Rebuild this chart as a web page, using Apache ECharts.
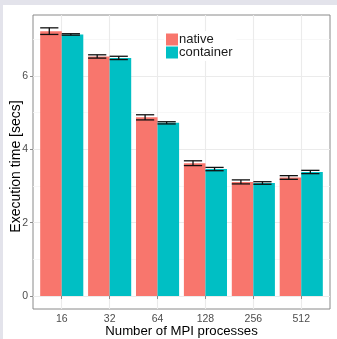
<!DOCTYPE html>
<html><head><meta charset="utf-8">
<script src="https://cdn.jsdelivr.net/npm/echarts@6/dist/echarts.min.js"></script>
<style>
html,body{margin:0;padding:0;background:#e3e3eb;width:337px;height:339px;overflow:hidden}
#c{position:absolute;left:3px;top:5px;width:334px;height:334px;background:#fff}
</style></head><body><div id="c"></div>
<script>
const categories = ['16','32','64','128','256','512'];
const nativeVals = [7.22, 6.53, 4.87, 3.62, 3.11, 3.23];
const nativeErr  = [0.09, 0.045, 0.07, 0.065, 0.055, 0.05];
const containerVals = [7.13, 6.49, 4.72, 3.46, 3.08, 3.38];
const containerErr  = [0.02, 0.045, 0.03, 0.045, 0.035, 0.045];
const yTicks = [0, 2, 4, 6];
const yMinor = [1, 3, 5, 7];
const xPos = categories.map((c, i) => i + 1);

const FONT = "'Liberation Sans', Arial, sans-serif";
const chart = echarts.init(document.getElementById('c'), null, {renderer: 'canvas'});

function makeRender(side, color) {
  return function (params, api) {
    const x = api.value(0), y = api.value(1), e = api.value(2);
    const x0 = side < 0 ? x - 0.45 : x;
    const x1 = x0 + 0.45;
    const pTop = api.coord([x0, y]);
    const pBot = api.coord([x1, 0]);
    const cx = (x0 + x1) / 2 - 0.035;
    const a = api.coord([cx - 0.19, y + e]);
    const b = api.coord([cx + 0.19, y - e]);
    const m = api.coord([cx, y]);
    const ls = {stroke: '#111', lineWidth: 1.3};
    return {
      type: 'group',
      children: [
        {type: 'rect', shape: {x: pTop[0], y: pTop[1], width: pBot[0] - pTop[0], height: pBot[1] - pTop[1]}, style: {fill: color}},
        {type: 'line', shape: {x1: a[0], y1: a[1], x2: b[0], y2: a[1]}, style: ls},
        {type: 'line', shape: {x1: a[0], y1: b[1], x2: b[0], y2: b[1]}, style: ls},
        {type: 'line', shape: {x1: m[0], y1: a[1], x2: m[0], y2: b[1]}, style: ls}
      ]
    };
  };
}

const gridMajor = {color: '#ebebeb', width: 1.1, type: 'solid'};
const gridMinor = {color: '#f5f5f5', width: 0.8, type: 'solid'};
const markData = []
  .concat(yTicks.map(v => ({yAxis: v, lineStyle: gridMajor})))
  .concat(yMinor.map(v => ({yAxis: v, lineStyle: gridMinor})))
  .concat(xPos.map(v => ({xAxis: v, lineStyle: gridMajor})));

chart.setOption({
  animation: false,
  textStyle: {fontFamily: FONT},
  grid: {left: 30, top: 10, right: 7, bottom: 30, containLabel: false, outerBoundsMode: 'none',
    show: true, borderColor: '#8a8a8a', borderWidth: 1, backgroundColor: 'transparent'},
  legend: {
    orient: 'vertical', left: 161, top: 26, itemGap: 0, itemWidth: 12, itemHeight: 12,
    icon: 'rect', backgroundColor: '#fff', padding: [2, 4, 2, 2],
    textStyle: {fontFamily: FONT, fontSize: 13, color: '#1a1a1a', padding: [0, 0, 0, -4]},
    data: ['native', 'container']
  },
  xAxis: {
    type: 'value', min: 0.4, max: 6.6,
    name: 'Number of MPI processes', nameLocation: 'middle', nameGap: 15.5, nameMoveOverlap: false,
    nameTextStyle: {fontFamily: FONT, fontSize: 13.2, color: '#000'},
    axisLine: {show: false},
    axisTick: {show: true, length: 3, lineStyle: {color: '#8a8a8a'}, customValues: xPos},
    axisLabel: {customValues: xPos, margin: 5, fontSize: 10.5, color: '#4d4d4d', fontFamily: FONT,
      formatter: v => categories[Math.round(v) - 1] || ''},
    splitLine: {show: false}
  },
  yAxis: {
    type: 'value', min: -0.355, max: 7.66,
    name: 'Execution time [secs]', nameLocation: 'middle', nameGap: 9.5, nameMoveOverlap: false,
    nameTextStyle: {fontFamily: FONT, fontSize: 14, color: '#000', padding: [0, 9, 0, 0]},
    axisLine: {show: false},
    axisTick: {show: true, length: 3, lineStyle: {color: '#8a8a8a'}, customValues: yTicks},
    axisLabel: {customValues: yTicks, margin: 5, fontSize: 10.5, color: '#4d4d4d', fontFamily: FONT},
    splitLine: {show: false}
  },
  series: [
    {
      type: 'custom', name: 'gridlines', silent: true, data: [],
      renderItem: () => null,
      markLine: {silent: true, symbol: ['none', 'none'], label: {show: false}, animation: false, data: markData, z: 0}
    },
    {
      type: 'custom', name: 'native', itemStyle: {color: '#F8766D'}, z: 3,
      renderItem: makeRender(-1, '#F8766D'),
      data: xPos.map((x, i) => [x, nativeVals[i], nativeErr[i]])
    },
    {
      type: 'custom', name: 'container', itemStyle: {color: '#00BFC4'}, z: 3,
      renderItem: makeRender(1, '#00BFC4'),
      data: xPos.map((x, i) => [x, containerVals[i], containerErr[i]])
    }
  ]
});
</script></body></html>
